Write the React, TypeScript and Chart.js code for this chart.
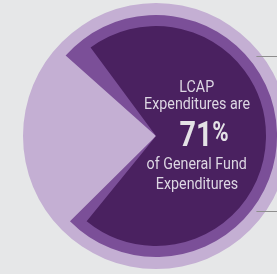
import React, { useEffect, useRef } from "react";
import { Chart, registerables } from "chart.js";

Chart.register(...registerables);

// Data
const categories = ["LCAP Expenditures", "Other General Fund Expenditures"];
const shares = [71, 29];
const haloShares = [76, 24];
const fullRing = [100];

const BG = "#e6e7e8";
const LIGHT = "#c4afd3";
const MEDIUM = "#7b4f98";
const DARK = "#4a2160";

const W = 312;
const H = 272;

const leaderPlugin = {
  id: "leaders",
  afterDraw(chart: any) {
    const meta = chart.getDatasetMeta(0);
    const arc = meta.data[0];
    if (!arc) return;
    const { x, y, outerRadius } = arc as any;
    const ctx = chart.ctx;
    ctx.save();
    ctx.strokeStyle = "#8e8e8e";
    ctx.lineWidth = 1;
    const x0 = x + outerRadius * 0.755;
    [-0.6, 0.565].forEach((f) => {
      const yy = Math.round(y + outerRadius * f) + 0.5;
      ctx.beginPath();
      ctx.moveTo(x0, yy);
      ctx.lineTo(chart.width, yy);
      ctx.stroke();
    });
    ctx.restore();
  },
};

function makeChart(
  canvas: HTMLCanvasElement,
  data: number[],
  colors: string[],
  radius: string,
  rotation: number,
  plugins: any[] = []
) {
  return new Chart(canvas, {
    type: "pie",
    data: {
      labels: data.length === 1 ? ["All"] : categories,
      datasets: [
        {
          data,
          backgroundColor: colors,
          borderWidth: 0,
          hoverOffset: 0,
        },
      ],
    },
    options: {
      responsive: false,
      animation: false,
      radius,
      rotation,
      layout: { padding: 3 },
      plugins: {
        legend: { display: false },
        tooltip: { enabled: false },
      },
      events: [],
    },
    plugins,
  });
}

const lineStyle: React.CSSProperties = {
  position: "absolute",
  left: 117,
  width: 160,
  textAlign: "center",
  whiteSpace: "nowrap",
  fontFamily: "Roboto, 'Noto Sans', sans-serif",
  color: "#ddd7e3",
  lineHeight: 1,
};

const innerStyle: React.CSSProperties = {
  display: "inline-block",
  transform: "scaleX(0.84)",
  transformOrigin: "center",
};

export default function App() {
  const c1 = useRef<HTMLCanvasElement>(null);
  const c2 = useRef<HTMLCanvasElement>(null);
  const c3 = useRef<HTMLCanvasElement>(null);

  useEffect(() => {
    const a = makeChart(c1.current!, fullRing, [LIGHT], "100%", 0, [leaderPlugin]);
    const b = makeChart(c2.current!, haloShares, [MEDIUM, "rgba(0,0,0,0)"], "91%", -48.3);
    const c = makeChart(c3.current!, shares, [DARK, "rgba(0,0,0,0)"], "82.7%", -36.5);
    return () => {
      a.destroy();
      b.destroy();
      c.destroy();
    };
  }, []);

  const canvasStyle: React.CSSProperties = { position: "absolute", left: 0, top: 0 };

  return (
    <div
      style={{
        position: "fixed",
        left: 0,
        top: 0,
        width: 277,
        height: 274,
        overflow: "hidden",
        background: BG,
      }}
    >
      <canvas ref={c1} width={W} height={H} style={canvasStyle} />
      <canvas ref={c2} width={W} height={H} style={canvasStyle} />
      <canvas ref={c3} width={W} height={H} style={canvasStyle} />
      <div style={{ ...lineStyle, top: 78, fontSize: 17 }}>
        <span style={innerStyle}>LCAP</span>
      </div>
      <div style={{ ...lineStyle, top: 95, fontSize: 17 }}>
        <span style={innerStyle}>Expenditures are</span>
      </div>
      <div style={{ ...lineStyle, left: 124, top: 117, fontSize: 35, fontWeight: 700, color: "#e4e2e6" }}>
        <span style={{ ...innerStyle, transform: "scaleX(0.82)" }}>
          71<span style={{ fontSize: 27, verticalAlign: "top", position: "relative", top: 2 }}>%</span>
        </span>
      </div>
      <div style={{ ...lineStyle, top: 155, fontSize: 17 }}>
        <span style={innerStyle}>of General Fund</span>
      </div>
      <div style={{ ...lineStyle, top: 175, fontSize: 17 }}>
        <span style={innerStyle}>Expenditures</span>
      </div>
    </div>
  );
}
